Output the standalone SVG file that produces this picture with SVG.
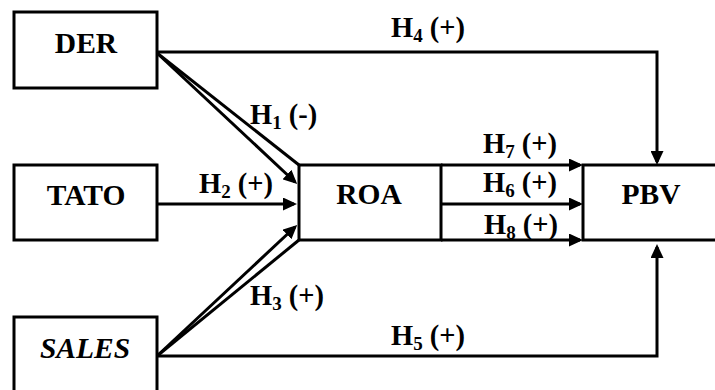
<svg xmlns="http://www.w3.org/2000/svg" width="715" height="390" viewBox="0 0 715 390">
<style>
.box{fill:#fff;stroke:#000;stroke-width:3}
.ln{fill:none;stroke:#000;stroke-width:3}
text{font-family:"Liberation Serif","Times New Roman",Times,serif;fill:#000}
.nt{font-weight:bold;font-size:29.5px;text-anchor:middle}
.it{font-style:italic}
.lb{font-weight:bold;font-size:28.5px}
.sb{font-size:19px}
</style>
<defs>
<marker id="ah" viewBox="0 0 14 13" refX="11" refY="6.5" markerWidth="14" markerHeight="13" markerUnits="userSpaceOnUse" orient="auto">
<path d="M0,0 L14,6.5 L0,13 z" fill="#000"/>
</marker>
</defs>
<g id="connectors">
<path class="ln" d="M157,52 H657 V162" marker-end="url(#ah)"/>
<path class="ln" d="M157,356 H657 V247" marker-end="url(#ah)"/>
<line class="ln" x1="157" y1="53" x2="299" y2="165"/>
<line class="ln" x1="157" y1="53" x2="295" y2="182" marker-end="url(#ah)"/>
<line class="ln" x1="157" y1="204" x2="294" y2="204" marker-end="url(#ah)"/>
<line class="ln" x1="157" y1="356" x2="299" y2="240"/>
<line class="ln" x1="157" y1="356" x2="295" y2="227" marker-end="url(#ah)"/>
<line class="ln" x1="441" y1="165" x2="580" y2="165" marker-end="url(#ah)"/>
<line class="ln" x1="441" y1="204" x2="580" y2="204" marker-end="url(#ah)"/>
<line class="ln" x1="441" y1="240" x2="580" y2="240" marker-end="url(#ah)"/>
</g>
<g id="DER"><rect class="box" x="14" y="12" width="143" height="76"/><text class="nt" x="86" y="53">DER</text></g>
<g id="TATO"><rect class="box" x="14" y="165" width="143" height="75"/><text class="nt" x="86" y="205">TATO</text></g>
<g id="SALES"><rect class="box" x="14" y="317" width="143" height="90"/><text class="nt it" x="85" y="358">SALES</text></g>
<g id="ROA"><rect class="box" x="299" y="165" width="142" height="75"/><text class="nt" x="369" y="204">ROA</text></g>
<g id="PBV"><rect class="box" x="583" y="165" width="140" height="75"/><text class="nt" x="651" y="204">PBV</text></g>
<g id="labels">
<text class="lb" x="391" y="37">H<tspan class="sb" dy="5">4</tspan><tspan dy="-5"> (+)</tspan></text>
<text class="lb" x="250" y="124">H<tspan class="sb" dy="5">1</tspan><tspan dy="-5"> (-)</tspan></text>
<text class="lb" x="199" y="193">H<tspan class="sb" dy="5">2</tspan><tspan dy="-5"> (+)</tspan></text>
<text class="lb" x="250" y="305">H<tspan class="sb" dy="5">3</tspan><tspan dy="-5"> (+)</tspan></text>
<text class="lb" x="391" y="345">H<tspan class="sb" dy="5">5</tspan><tspan dy="-5"> (+)</tspan></text>
<text class="lb" x="483" y="153">H<tspan class="sb" dy="5">7</tspan><tspan dy="-5"> (+)</tspan></text>
<text class="lb" x="483" y="192">H<tspan class="sb" dy="5">6</tspan><tspan dy="-5"> (+)</tspan></text>
<text class="lb" x="484" y="234">H<tspan class="sb" dy="5">8</tspan><tspan dy="-5"> (+)</tspan></text>
</g>
</svg>
